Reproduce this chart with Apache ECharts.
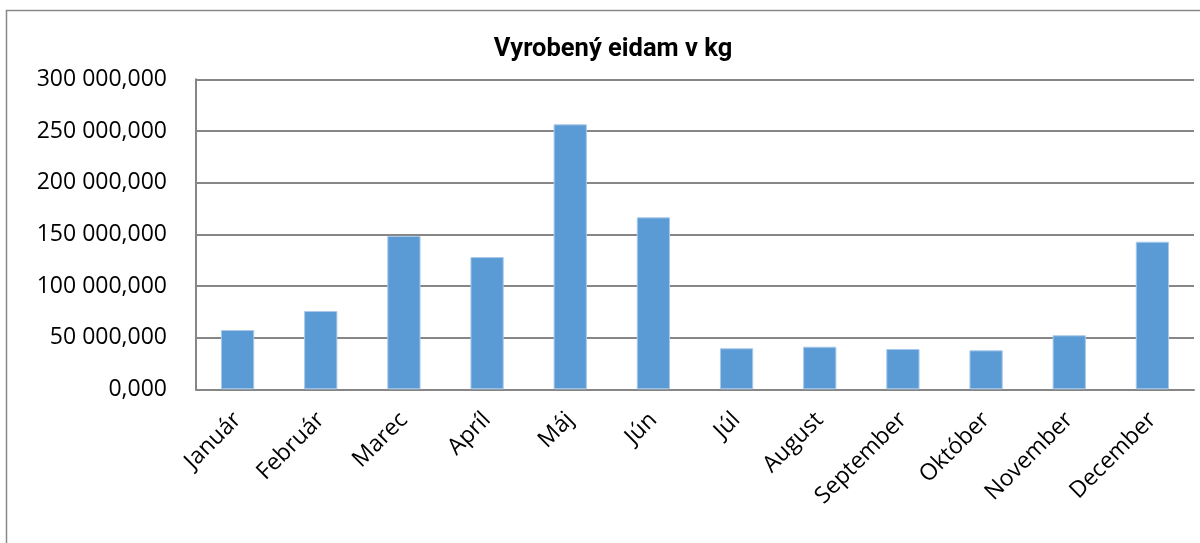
<!DOCTYPE html>
<html>
<head>
<meta charset="utf-8">
<script src="https://cdn.jsdelivr.net/npm/echarts@6/dist/echarts.min.js"></script>
<style>html,body{margin:0;padding:0;background:#fff}#c{width:1200px;height:543px}</style>
</head>
<body>
<div id="c"></div>
<script>
const title = 'Vyrobený eidam v kg';
const months = ['Január','Február','Marec','Apríl','Máj','Jún','Júl','August','September','Október','November','December'];
const values = [57400, 75800, 148400, 128000, 256400, 166400, 39700, 41200, 39000, 37700, 52300, 142800];
const yMin = 0, yMax = 300000, yStep = 50000;

function fmt(v){
  const parts = v.toFixed(3).split('.');
  return parts[0].replace(/\B(?=(\d{3})+(?!\d))/g, ' ') + ',' + parts[1];
}

const chart = echarts.init(document.getElementById('c'), null, {renderer:'canvas'});
chart.setOption({
  animation:false,
  backgroundColor:'#fff',
  title:{
    text:title, left:608, top:32, textAlign:'center',
    textStyle:{fontFamily:'Roboto', fontWeight:'bold', fontSize:25.5, color:'#000'}
  },
  graphic:[{
    type:'rect', shape:{x:6.5, y:10.5, width:1300, height:700},
    style:{fill:'none', stroke:'#888', lineWidth:1.5}, silent:true
  }],
  grid:{left:196, right:6, top:79.3, bottom:153.7, containLabel:false},
  xAxis:{
    type:'category', data:months,
    axisLine:{lineStyle:{color:'#868686', width:2}},
    axisTick:{show:false},
    axisLabel:{rotate:45, interval:0, margin:27, fontFamily:'Open Sans', fontSize:23, color:'#000'}
  },
  yAxis:{
    type:'value', min:yMin, max:yMax, interval:yStep,
    axisLine:{show:true, lineStyle:{color:'#868686', width:2}},
    axisTick:{show:false},
    splitLine:{lineStyle:{color:'#868686', width:2}},
    axisLabel:{formatter:fmt, margin:29, fontFamily:'Open Sans', fontSize:23, color:'#000'}
  },
  series:[{
    type:'bar', data:values, barWidth:'40%',
    itemStyle:{color:'#5B9BD5', borderColor:'#A9C8EA', borderWidth:1}
  }]
});
</script>
</body>
</html>
